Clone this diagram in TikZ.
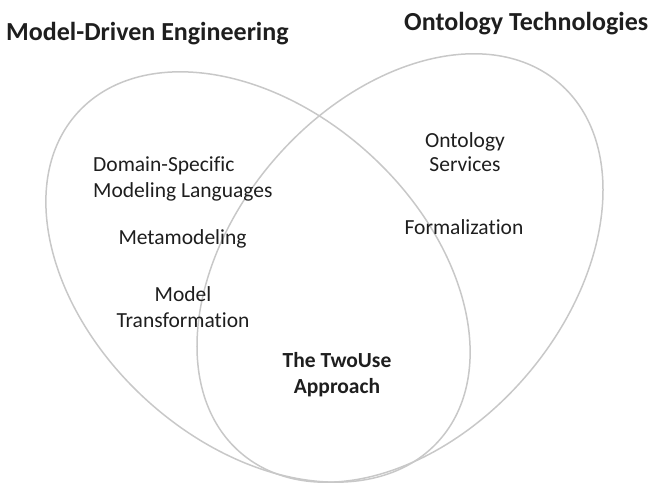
\documentclass[tikz,border=0pt]{standalone}
\usepackage{fontspec}
\setmainfont{Carlito}[Ligatures=NoCommon]
\definecolor{ringgray}{RGB}{200,200,200}
\definecolor{txt}{RGB}{30,30,30}
\begin{document}
\begin{tikzpicture}[x=1pt,y=1pt,
  ring/.style={draw=ringgray,line width=1.5pt},
  title/.style={inner sep=0pt,text=txt,font=\fontsize{26}{30}\selectfont\bfseries},
  item/.style={inner sep=0pt,text=txt,font=\fontsize{21.5}{26}\selectfont},
  bitem/.style={inner sep=0pt,text=txt,font=\fontsize{21.5}{26}\selectfont\bfseries}]
\useasboundingbox (0,0) rectangle (648,484);
\draw[ring] (258,207) ellipse [x radius=244pt,y radius=166pt,rotate=-42.4];
\draw[ring] (400,216) ellipse [x radius=244pt,y radius=166pt,rotate=49.2];
\node[title,anchor=west] (mde) at (6,450) {Model-Driven Engineering};
\node[title,anchor=west] (ot) at (404,460) {Ontology Technologies};
\node[item,anchor=west,align=left] (dsml) at (93,305) {Domain-Specific\\Modeling Languages};
\node[item] (meta) at (182.5,245) {Metamodeling};
\node[item,align=center] (mt) at (183,177) {Model\\Transformation};
\node[bitem,align=center] (two) at (337,109) {The TwoUse\\Approach};
\node[item,align=center,font=\fontsize{21.5}{24}\selectfont] (os) at (465,332) {Ontology\\Services};
\node[item] (form) at (464,257) {Formalization};
\end{tikzpicture}
\end{document}
